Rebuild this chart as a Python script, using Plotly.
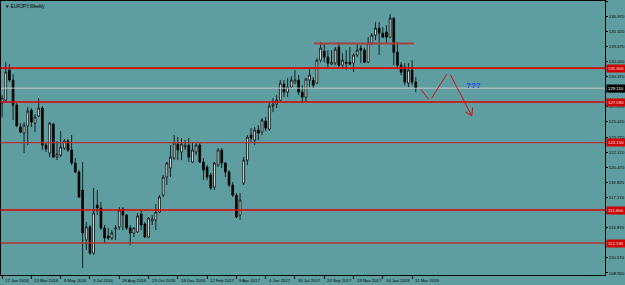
import pandas as pd
import plotly.graph_objects as go

# ---------------- data ----------------
start = pd.Timestamp("2016-01-17")
opens = [127.48,127.80,131.08,129.99,127.26,124.86,124.20,124.97,126.71,125.29,
         126.06,126.93,122.89,122.02,125.18,121.58,121.80,122.56,123.33,122.35,
         120.93,119.94,117.98,112.52,113.94,111.10,116.34,116.02,113.83,112.96,
         112.74,113.72,113.94,115.91,115.25,113.83,113.29,113.40,115.36,114.27,
         112.85,114.60,114.71,115.58,117.43,119.40,120.38,121.47,123.00,122.13,
         122.67,122.89,121.04,122.13,122.89,121.04,120.49,119.62,118.31,120.71,
         122.35,120.93,119.94,118.53,117.43,115.25,118.74,121.25,123.98,123.44,
         124.53,124.31,125.51,124.64,127.15,127.37,127.80,129.55,128.68,129.22,
         129.66,129.99,128.68,128.13,129.99,129.99,129.66,132.17,133.15,132.50,
         131.73,131.84,133.59,131.62,131.95,131.95,131.84,132.72,133.48,133.26,
         131.95,134.03,134.90,135.66,135.12,135.23,134.68,136.75,133.04,131.62,
         131.41,129.66,131.08,129.77]
highs = [128.35,131.95,131.73,130.64,127.48,125.29,125.40,127.04,126.93,126.28,
         128.02,127.15,123.22,125.40,125.29,123.33,124.42,123.55,123.55,123.98,
         121.47,120.16,121.04,114.49,114.16,118.20,117.98,116.67,114.16,113.83,
         113.61,114.16,116.12,116.12,115.36,114.16,113.94,115.47,115.80,114.49,
         115.03,115.25,116.45,117.43,119.62,121.04,122.89,123.98,123.76,123.66,
         123.44,123.66,123.11,123.11,123.11,121.47,120.71,119.84,121.04,122.56,
         122.56,121.04,120.16,118.85,117.65,117.65,121.58,123.98,124.75,124.86,
         125.07,125.84,125.95,127.48,128.02,128.35,129.99,129.99,130.20,130.42,
         131.08,130.53,129.44,130.20,131.41,130.31,132.39,134.13,134.03,133.26,
         133.26,133.59,134.13,132.93,133.26,133.59,132.93,134.03,133.81,133.48,
         134.68,135.12,136.32,136.32,135.77,135.99,137.19,136.86,134.13,131.95,
         131.84,131.84,132.17,130.31]
lows = [125.95,127.59,129.77,125.62,124.86,124.20,122.02,122.89,124.86,124.31,
        125.95,122.35,122.13,121.58,121.47,121.25,121.58,122.35,122.13,120.71,
        119.84,117.11,109.47,111.43,110.89,110.89,115.25,113.61,112.19,112.52,
        112.52,112.52,113.61,113.61,113.61,111.98,112.85,113.29,113.61,112.74,
        112.74,114.16,113.61,115.47,117.22,118.53,119.40,121.25,121.25,121.25,
        122.35,121.04,120.93,121.80,120.93,119.07,119.07,117.98,117.98,120.49,
        120.38,119.40,118.31,117.22,114.92,114.71,118.53,120.71,123.22,122.89,
        123.44,123.98,124.42,124.42,126.49,126.93,127.69,128.13,128.13,129.11,
        129.66,128.35,127.48,127.59,129.22,129.11,129.66,131.95,131.95,131.41,
        131.62,131.62,131.41,131.30,131.08,131.62,130.86,132.50,131.84,131.84,
        131.84,133.81,134.35,132.72,134.57,134.03,134.57,131.62,131.41,130.53,
        129.44,129.22,129.44,128.68]
closes = [128.02,130.86,129.99,127.26,124.97,124.31,125.07,126.60,125.40,125.95,
          126.93,122.89,122.46,125.29,121.58,121.91,122.67,123.33,122.35,120.93,
          119.94,117.22,113.29,113.94,111.10,115.47,116.02,113.83,112.74,112.74,
          113.29,113.83,115.80,115.25,113.83,113.29,113.83,115.14,114.16,112.85,
          114.92,114.81,115.58,117.22,119.40,120.93,121.58,123.11,122.35,123.00,
          122.89,121.58,122.35,122.89,121.04,120.16,119.40,118.20,120.93,122.35,
          120.93,119.94,118.53,117.43,115.03,116.89,121.25,123.76,123.66,124.53,
          124.20,125.62,124.75,127.15,127.37,127.80,129.66,128.68,129.22,129.99,
          129.99,128.68,128.13,130.10,130.53,129.44,132.17,133.48,132.50,131.84,
          131.95,133.37,131.62,132.17,131.84,131.73,132.72,133.26,133.26,131.95,
          134.03,134.90,135.66,135.12,134.68,134.68,136.75,133.04,131.62,130.86,
          129.77,131.08,129.77,129.11]
dates = [start + pd.Timedelta(weeks=i) for i in range(len(opens))]

tick_dates = ["2016-01-17", "2016-03-13", "2016-05-08", "2016-07-03", "2016-08-28",
              "2016-10-23", "2016-12-18", "2017-02-12", "2017-04-09", "2017-06-04",
              "2017-07-30", "2017-09-24", "2017-11-19", "2018-01-14", "2018-03-11"]
tick_text = ["17 Jan 2016", "13 Mar 2016", "8 May 2016", "3 Jul 2016", "28 Aug 2016",
             "23 Oct 2016", "18 Dec 2016", "12 Feb 2017", "9 Apr 2017", "4 Jun 2017",
             "30 Jul 2017", "24 Sep 2017", "19 Nov 2017", "14 Jan 2018", "11 Mar 2018"]

price_ticks = [108.92, 110.57, 113.87, 115.52, 117.17, 118.82, 120.47, 122.12,
               123.77, 125.42, 127.07, 128.72, 130.37, 132.02, 133.67, 135.32, 136.97, 138.62]
price_tick_text = ["108.920", "110.570", "113.870", "115.520", "117.170",
                   "118.820", "120.470", "122.120", "123.770", "125.420", "127.070",
                   "128.720", "130.370", "132.020", "133.670", "135.320", "136.970", "138.620"]

bright_levels = [131.30, 127.59, 115.80]
dark_levels = [123.156, 112.19]
current_price = 129.11

# drawn objects (week offsets from start, prices)
top_line_weeks = [85.2, 112.5]
top_line_price = 134.0
arrow_weeks = [114.45, 116.55, 117.37, 121.47, 122.45, 128.3]
arrow_prices = [128.95, 127.88, 128.02, 130.64, 130.59, 126.09]
head_weeks = [126.55, 128.3, 128.57]
head_prices = [126.53, 126.09, 127.01]
qmark_week, qmark_price = 128.65, 129.44

# ---------------- figure ----------------
def wk(w):
    return start + pd.Timedelta(days=7 * w)

BG = "#5F9EA0"
FS = 4.3
fig = go.Figure()
fig.add_trace(go.Candlestick(
    x=dates, open=opens, high=highs, low=lows, close=closes,
    increasing=dict(line=dict(color="black", width=0.8), fillcolor="white"),
    decreasing=dict(line=dict(color="black", width=0.8), fillcolor="black"),
    whiskerwidth=0, showlegend=False, hoverinfo="skip"))

shapes = []
for lv in bright_levels:
    shapes.append(dict(type="line", xref="paper", x0=0, x1=1, yref="y", y0=lv, y1=lv,
                       line=dict(color="#E00000", width=1.6)))
for lv in dark_levels:
    shapes.append(dict(type="line", xref="paper", x0=0, x1=1, yref="y", y0=lv, y1=lv,
                       line=dict(color="#B43030", width=1.4)))
shapes.append(dict(type="line", xref="paper", x0=0, x1=1, yref="y", y0=current_price,
                   y1=current_price, line=dict(color="#C8C8C8", width=1)))
shapes.append(dict(type="line", x0=wk(top_line_weeks[0]), x1=wk(top_line_weeks[1]),
                   y0=top_line_price, y1=top_line_price,
                   line=dict(color="#A84040", width=2)))
for k in range(0, len(arrow_weeks), 2):
    shapes.append(dict(type="line", x0=wk(arrow_weeks[k]), x1=wk(arrow_weeks[k + 1]),
                       y0=arrow_prices[k], y1=arrow_prices[k + 1],
                       line=dict(color="#D01010", width=1)))
for k in (0, 2):
    shapes.append(dict(type="line", x0=wk(head_weeks[k]), x1=wk(head_weeks[1]),
                       y0=head_prices[k], y1=head_prices[1],
                       line=dict(color="#D01010", width=1)))

annotations = []
for lv in bright_levels + dark_levels:
    annotations.append(dict(xref="paper", x=1, xanchor="left", xshift=1, yref="y", y=lv,
                            text=f"{lv:.3f}", showarrow=False, bgcolor="#D00000",
                            font=dict(size=FS, color="#F0F0F0", family="Arial"),
                            borderpad=1))
annotations.append(dict(xref="paper", x=1, xanchor="left", xshift=1, yref="y",
                        y=current_price, text=f"{current_price:.3f}", showarrow=False,
                        bgcolor="black", font=dict(size=FS, color="white", family="Arial"),
                        borderpad=1))
for d, t in zip(tick_dates, tick_text):
    annotations.append(dict(x=d, yref="paper", y=0, xanchor="left", yanchor="top",
                            xshift=1, yshift=-1, text=t, showarrow=False,
                            font=dict(size=FS, color="black", family="Arial")))
annotations.append(dict(x=wk(qmark_week), y=qmark_price, text="<b>???</b>", showarrow=False,
                        font=dict(size=8, color="#1E3CFF", family="Arial")))
annotations.append(dict(xref="paper", yref="paper", x=0.004, y=0.995, xanchor="left",
                        yanchor="top", text="▼ EURJPY,Weekly", showarrow=False,
                        font=dict(size=4.6, color="black", family="Arial")))

fig.update_layout(
    width=625, height=285,
    margin=dict(l=1, r=20, t=1, b=10),
    plot_bgcolor=BG, paper_bgcolor=BG, boxgap=0.3,
    shapes=shapes, annotations=annotations,
    xaxis=dict(type="date", range=[wk(-0.3), wk(164.7)], rangeslider=dict(visible=False),
               showgrid=False, zeroline=False, tickvals=tick_dates, showticklabels=False,
               ticks="outside", ticklen=3, tickcolor="black", showline=True,
               linecolor="black", linewidth=1, mirror=True, automargin=False),
    yaxis=dict(side="right", range=[108.70, 138.63], showgrid=False, zeroline=False,
               tickvals=price_ticks, ticktext=price_tick_text,
               tickfont=dict(size=FS, color="black", family="Arial"), ticks="outside",
               ticklen=2, tickcolor="black", showline=True, linecolor="black",
               linewidth=1, mirror=True, automargin=False, ticklabelstandoff=0),
)

fig.write_html("out.html")
